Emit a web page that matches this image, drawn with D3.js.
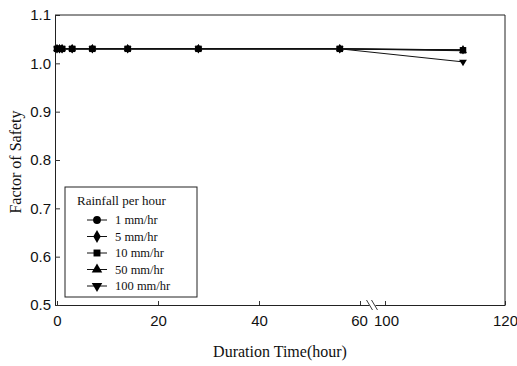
<!DOCTYPE html>
<html>
<head>
<meta charset="utf-8">
<script src="https://cdn.jsdelivr.net/npm/d3@7"></script>
<style>
  body { margin: 0; background: #fff; }
  svg { display: block; }
</style>
</head>
<body>
<svg id="drawing_region"></svg>
<script>
// data
const times = [0, 0.5, 1, 3, 7, 14, 28, 56, 113];
const rain_1 = [1.03, 1.03, 1.03, 1.03, 1.03, 1.03, 1.03, 1.03, 1.028];
const rain_5 = [1.03, 1.03, 1.03, 1.03, 1.03, 1.03, 1.03, 1.03, 1.028];
const rain_10 = [1.03, 1.03, 1.03, 1.03, 1.03, 1.03, 1.03, 1.03, 1.027];
const rain_50 = [1.03, 1.03, 1.03, 1.03, 1.03, 1.03, 1.03, 1.03, 1.026];
const rain_100 = [1.03, 1.03, 1.03, 1.03, 1.03, 1.03, 1.03, 1.03, 1.003];
const series_names = ['1 mm/hr', '5 mm/hr', '10 mm/hr', '50 mm/hr', '100 mm/hr'];
const x_ticks = [0, 20, 40, 60, 100, 120];
const y_ticks = [0.5, 0.6, 0.7, 0.8, 0.9, 1.0, 1.1];

const series = [
    { name: series_names[0], values: rain_1, symbol: d3.symbolCircle },
    { name: series_names[1], values: rain_5, symbol: d3.symbolDiamond },
    { name: series_names[2], values: rain_10, symbol: d3.symbolSquare },
    { name: series_names[3], values: rain_50, symbol: d3.symbolTriangle },
    { name: series_names[4], values: rain_100, symbol: 'down' },
];

const config = {
    width: 517,
    height: 366,
    margin: { top: 15, right: 12, bottom: 61, left: 55 }
};

const svg = d3.select('#drawing_region')
    .attr('width', config.width)
    .attr('height', config.height);

const inner_width = config.width - config.margin.left - config.margin.right;
const inner_height = config.height - config.margin.top - config.margin.bottom;

const chart = svg.append('g')
    .attr('transform', `translate(${config.margin.left}, ${config.margin.top})`);

// broken axis: 0-60 then 100-120
const xscale = d3.scaleLinear()
    .domain([0, 60, 100, 120])
    .range([2, 305, 330, inner_width]);

const yscale = d3.scaleLinear()
    .domain([0.5, 1.1])
    .range([inner_height, 0]);

const tickFont = 'Liberation Sans, Arial, sans-serif';
const serif = 'Liberation Serif, Times New Roman, serif';

const xaxis = d3.axisBottom(xscale)
    .tickValues(x_ticks)
    .tickFormat(d3.format('d'))
    .tickSizeInner(-4)
    .tickSizeOuter(0)
    .tickPadding(10);

const yaxis = d3.axisLeft(yscale)
    .tickValues(y_ticks)
    .tickFormat(d3.format('.1f'))
    .tickSizeInner(-5)
    .tickSizeOuter(0)
    .tickPadding(4);

const xaxis_group = chart.append('g')
    .attr('transform', `translate(0, ${inner_height})`)
    .call(xaxis);

const yaxis_group = chart.append('g')
    .call(yaxis);

[xaxis_group, yaxis_group].forEach(g => {
    g.selectAll('text')
        .attr('font-family', tickFont)
        .attr('font-size', '15px')
        .attr('fill', '#111');
    g.selectAll('line').attr('stroke', '#333');
    g.select('.domain').attr('stroke', '#222');
});
xaxis_group.selectAll('.tick text')
    .attr('dx', d => d === 60 ? '-1' : (d === 100 ? '1' : 0));

// frame top and right
chart.append('line')
    .attr('x1', 0).attr('x2', inner_width)
    .attr('y1', 0).attr('y2', 0)
    .attr('stroke', '#222');
chart.append('line')
    .attr('x1', inner_width).attr('x2', inner_width)
    .attr('y1', 0).attr('y2', inner_height)
    .attr('stroke', '#222');

// break mark on x axis
const bx = (xscale(60) + xscale(100)) / 2;
chart.append('rect')
    .attr('x', bx - 3).attr('y', inner_height - 3)
    .attr('width', 6).attr('height', 6)
    .attr('fill', '#fff');
[-3, 2].forEach(o => {
    chart.append('line')
        .attr('x1', bx + o - 3).attr('y1', inner_height - 5)
        .attr('x2', bx + o + 3).attr('y2', inner_height + 5)
        .attr('stroke', '#222')
        .attr('stroke-width', 0.9);
});

function symbolPath(sym, size) {
    if (sym === 'down') {
        return d3.symbol().type(d3.symbolTriangle).size(size)();
    }
    return d3.symbol().type(sym).size(size)();
}

const line = d3.line()
    .x(d => xscale(d.t))
    .y(d => yscale(d.v));

// draw 10 mm/hr last so squares sit on top
const draw_order = [4, 3, 1, 0, 2];
draw_order.forEach(i => {
    const s = series[i];
    const pts = times.map((t, j) => ({ t: t, v: s.values[j] }));
    const g = chart.append('g');
    g.append('path')
        .datum(pts)
        .attr('d', line)
        .attr('fill', 'none')
        .attr('stroke', '#111')
        .attr('stroke-width', 1);
    g.selectAll('path.mark')
        .data(pts)
        .enter()
        .append('path')
        .attr('class', 'mark')
        .attr('d', symbolPath(s.symbol, s.symbol === d3.symbolSquare ? 42 : 26))
        .attr('transform', d => `translate(${xscale(d.t)}, ${yscale(d.v)})` + (s.symbol === 'down' ? ' rotate(180)' : ''))
        .attr('fill', '#000');
});

// legend
const legend = svg.append('g')
    .attr('transform', 'translate(65, 187)');
legend.append('rect')
    .attr('width', 132).attr('height', 110)
    .attr('fill', '#fff')
    .attr('stroke', '#222')
    .attr('stroke-width', 1);
legend.append('text')
    .attr('x', 12).attr('y', 18)
    .attr('font-family', serif)
    .attr('font-size', '13px')
    .attr('fill', '#111')
    .text('Rainfall per hour');
series.forEach((s, i) => {
    const y = 33 + i * 16.5;
    legend.append('line')
        .attr('x1', 22).attr('x2', 42)
        .attr('y1', y).attr('y2', y)
        .attr('stroke', '#111');
    legend.append('path')
        .attr('d', symbolPath(s.symbol, 48))
        .attr('transform', `translate(32, ${y})` + (s.symbol === 'down' ? ' rotate(180)' : ''))
        .attr('fill', '#000');
    legend.append('text')
        .attr('x', 50).attr('y', y + 4)
        .attr('font-family', serif)
        .attr('font-size', '12.5px')
        .attr('fill', '#111')
        .text(s.name);
});

// axis titles
svg.append('text')
    .attr('x', 280).attr('y', 357)
    .attr('text-anchor', 'middle')
    .attr('font-family', serif)
    .attr('font-size', '16px')
    .attr('fill', '#111')
    .text('Duration Time(hour)');

svg.append('text')
    .attr('transform', 'translate(21, 162) rotate(-90)')
    .attr('text-anchor', 'middle')
    .attr('font-family', serif)
    .attr('font-size', '16px')
    .attr('fill', '#111')
    .text('Factor of Safety');
</script>
</body>
</html>
